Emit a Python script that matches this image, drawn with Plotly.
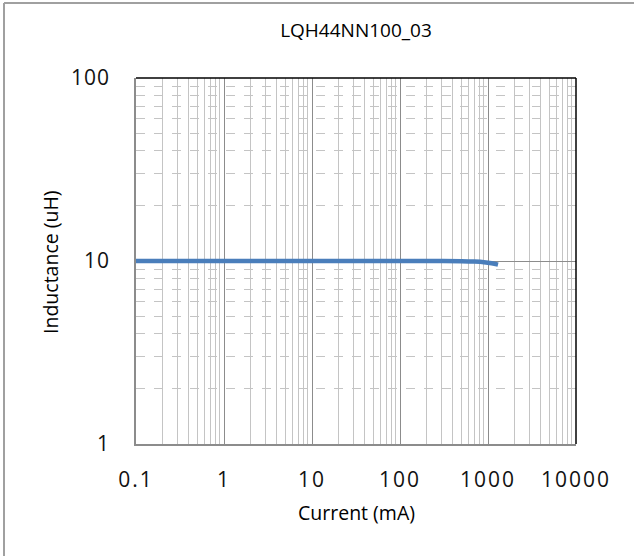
import plotly.graph_objects as go

title = "LQH44NN100_03"
x_label = "Current (mA)"
y_label = "Inductance (uH)"
current_ma = [0.1, 1, 10, 100, 300, 500, 700, 900, 1100, 1300]
inductance_uh = [10.0, 10.0, 10.0, 10.0, 10.0, 9.98, 9.93, 9.85, 9.72, 9.55]
x_ticks = [0.1, 1, 10, 100, 1000, 10000]
x_tick_text = ["0.1", "1", "10", "100", "1000", "10000"]
y_ticks = [1, 10, 100]
y_tick_text = ["1", "10", "100"]

x_minor = [m * d for d in [0.1, 1, 10, 100, 1000] for m in range(2, 10)]
y_minor = [m * d for d in [1, 10] for m in range(2, 10)]


def spaced(t, px):
    return '<span style="letter-spacing:%.1fpx">%s</span>' % (px, t)


fig = go.Figure()
fig.add_trace(go.Scatter(x=current_ma, y=inductance_uh, mode="lines",
                         line=dict(color="#4a7ebb", width=4.5, shape="spline"),
                         showlegend=False, hoverinfo="skip"))

font = "Open Sans, Liberation Sans, sans-serif"
L, T, PW, PH = 136, 78, 440, 366
fig.update_layout(
    width=634, height=556,
    margin=dict(l=L, r=634 - L - PW, t=T, b=556 - T - PH),
    paper_bgcolor="white", plot_bgcolor="white",
    title=dict(text=title, x=0.5, xanchor="center", xref="paper", y=1 - 30 / 556, yanchor="middle",
               font=dict(family=font, size=19, color="black")),
    xaxis=dict(type="log", range=[-1, 4], tickvals=x_ticks,
               ticktext=[spaced(t, 2) for t in x_tick_text],
               showgrid=True, gridcolor="#8c8c8c", gridwidth=1,
               minor=dict(tickvals=x_minor, showgrid=True, gridcolor="#c4c4c4", gridwidth=1, ticklen=0),
               showline=True, linecolor="#8c8c8c", linewidth=1.5, ticks="", zeroline=False,
               ticklabelstandoff=16,
               tickfont=dict(family=font, size=21, color="#111111")),
    yaxis=dict(type="log", range=[0, 2], tickvals=y_ticks,
               ticktext=[spaced(t, 1) for t in y_tick_text],
               showgrid=True, gridcolor="#8c8c8c", gridwidth=1,
               minor=dict(tickvals=y_minor, showgrid=True, gridcolor="#c4c4c4", gridwidth=1,
                          griddash="dash", ticklen=0),
               showline=True, linecolor="#8c8c8c", linewidth=1.5, ticks="", zeroline=False,
               ticklabelstandoff=20,
               tickfont=dict(family=font, size=21, color="#111111")),
    annotations=[
        dict(text=x_label, xref="paper", yref="paper", x=(356 - L) / PW, y=(T + PH - 512) / PH,
             xanchor="center", yanchor="middle", showarrow=False,
             font=dict(family=font, size=19.5, color="black")),
        dict(text=y_label, xref="paper", yref="paper", x=(50 - L) / PW, y=(T + PH - 262) / PH,
             xanchor="center", yanchor="middle", showarrow=False, textangle=-90,
             font=dict(family=font, size=19.5, color="black")),
    ],
)

# black top and right plot-area edges
fig.add_shape(type="line", xref="paper", yref="paper", x0=0, x1=1, y0=1, y1=1,
              line=dict(color="black", width=1.5))
fig.add_shape(type="line", xref="paper", yref="paper", x0=1, x1=1, y0=0, y1=1,
              line=dict(color="black", width=1.5))
# outer chart frame (top and left edges)
fig.add_shape(type="line", xref="paper", yref="paper", x0=(4 - L) / PW, x1=(640 - L) / PW,
              y0=(T + PH - 3) / PH, y1=(T + PH - 3) / PH, line=dict(color="#a0a0a0", width=2))
fig.add_shape(type="line", xref="paper", yref="paper", x0=(4 - L) / PW, x1=(4 - L) / PW,
              y0=(T + PH - 3) / PH, y1=(T + PH - 560) / PH, line=dict(color="#a0a0a0", width=2))

fig.write_html("out.html", config={"displayModeBar": False},
               post_script="document.body.style.margin='0';")
